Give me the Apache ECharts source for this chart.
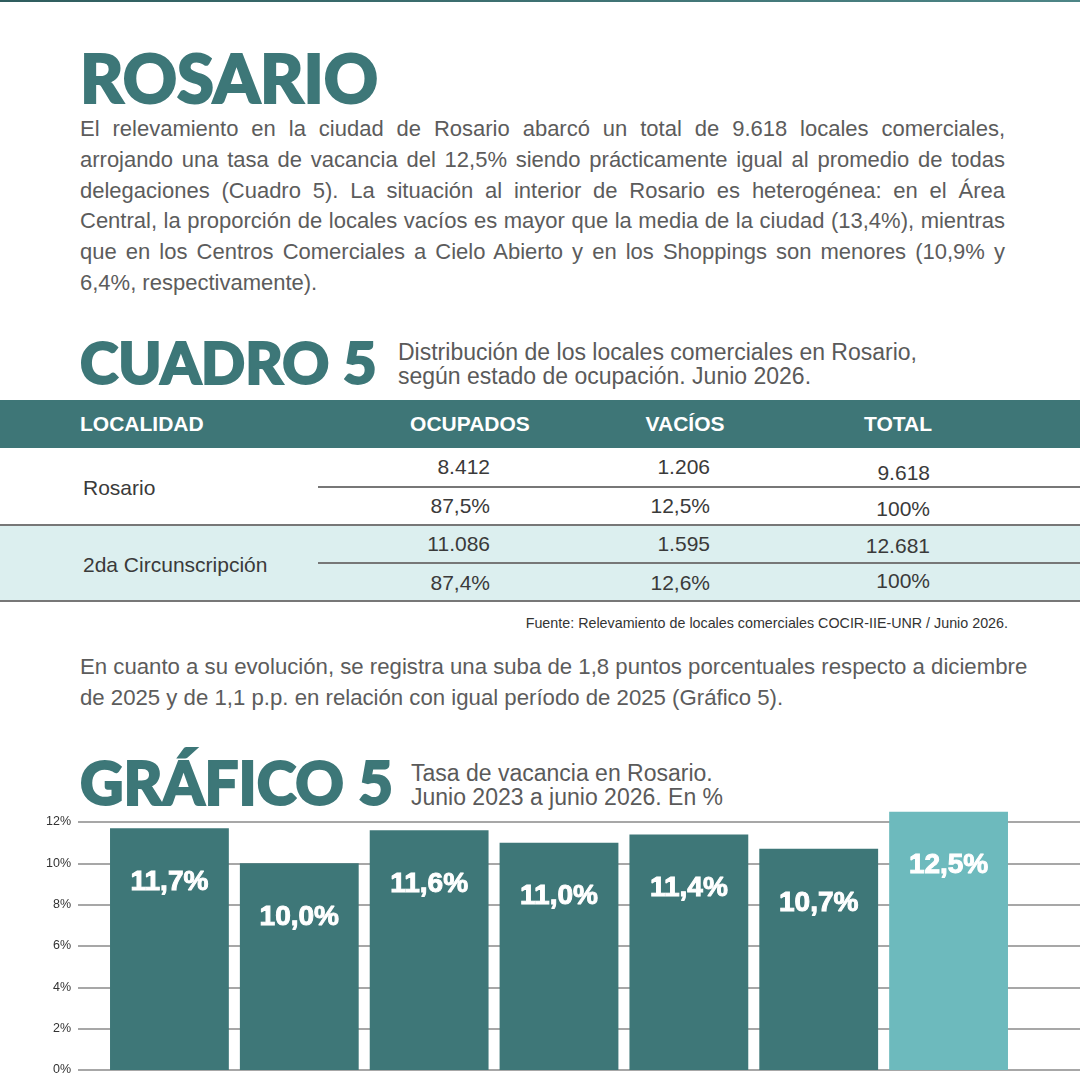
<!DOCTYPE html>
<html>
<head>
<meta charset="utf-8">
<script src="https://cdn.jsdelivr.net/npm/echarts@6/dist/echarts.min.js"></script>
<style>
  html, body { margin: 0; padding: 0; background: #fff; }
  #page { position: relative; width: 1080px; height: 1080px; overflow: hidden; font-family: "Liberation Sans", Arial, sans-serif; }
  .topline { position: absolute; left: 0; top: 0; width: 1080px; height: 2px; background: linear-gradient(90deg, #2f5d5e, #4d8586); }
  .big { position: absolute; font-family: Lato, "DejaVu Sans", sans-serif; font-weight: 900; color: #3d7778; line-height: 1; white-space: nowrap; -webkit-text-stroke: 2px #3d7778; }
  .sub { position: absolute; font-size: 23px; line-height: 24px; color: #5a5a5a; white-space: nowrap; }
  .para { position: absolute; left: 80px; width: 925px; font-size: 22px; line-height: 30.8px; color: #5c5c5c; }
  .para div { text-align: justify; text-align-last: justify; white-space: nowrap; }
  .para div.last { text-align-last: left; }
  .hdr { position: absolute; left: 0; top: 400px; width: 1080px; height: 48px; background: #3e7677; }
  .hdr span { position: absolute; top: 12px; font-size: 21px; line-height: 24px; font-weight: bold; color: #fff; }
  .row2bg { position: absolute; left: 0; top: 525px; width: 1080px; height: 76px; background: #dcefef; }
  .hl { position: absolute; height: 1.5px; background: #777; }
  .cell { position: absolute; font-size: 21px; height: 24px; line-height: 24px; color: #3a3a3a; white-space: nowrap; }
  .r { text-align: right; }
  .c { text-align: center; }
  #chart { position: absolute; left: 0; top: 740px; width: 1080px; height: 340px; }
</style>
</head>
<body>
<div id="page">
  <div class="topline"></div>
  <div class="big" style="left:80px; top:44px; font-size:67px;">ROSARIO</div>
  <div class="para" style="top:114px;">
    <div>El relevamiento en la ciudad de Rosario abarcó un total de 9.618 locales comerciales,</div>
    <div>arrojando una tasa de vacancia del 12,5% siendo prácticamente igual al promedio de todas</div>
    <div>delegaciones (Cuadro 5). La situación al interior de Rosario es heterogénea: en el Área</div>
    <div>Central, la proporción de locales vacíos es mayor que la media de la ciudad (13,4%), mientras</div>
    <div>que en los Centros Comerciales a Cielo Abierto y en los Shoppings son menores (10,9% y</div>
    <div class="last">6,4%, respectivamente).</div>
  </div>

  <div class="big" style="left:80px; top:333px; font-size:58px;">CUADRO 5</div>
  <div class="sub" style="left:398px; top:340px;">Distribución de los locales comerciales en Rosario,<br>según estado de ocupación. Junio 2026.</div>

  <div class="hdr">
    <span style="left:80px;">LOCALIDAD</span>
    <span style="left:370px; width:200px; text-align:center;">OCUPADOS</span>
    <span style="left:585px; width:200px; text-align:center;">VACÍOS</span>
    <span style="left:798px; width:200px; text-align:center;">TOTAL</span>
  </div>
  <div class="row2bg"></div>
  <div class="hl" style="left:318px; top:486px; width:762px;"></div>
  <div class="hl" style="left:0; top:524px; width:1080px;"></div>
  <div class="hl" style="left:318px; top:562px; width:762px;"></div>
  <div class="hl" style="left:0; top:600px; width:1080px;"></div>
  <div id="cells"></div>

  <div class="cell" style="left:0; top:611px; width:1008px; text-align:right; font-size:14.3px; color:#333;">Fuente: Relevamiento de locales comerciales COCIR-IIE-UNR / Junio 2026.</div>

  <div class="para" style="top:652px; width:1000px; font-size:22.2px;">
    <div class="last">En cuanto a su evolución, se registra una suba de 1,8 puntos porcentuales respecto a diciembre</div>
    <div class="last">de 2025 y de 1,1 p.p. en relación con igual período de 2025 (Gráfico 5).</div>
  </div>

  <div class="big" style="left:80px; top:752px; font-size:60px;">GRÁFICO 5</div>
  <div class="sub" style="left:411px; top:761px;">Tasa de vacancia en Rosario.<br>Junio 2023 a junio 2026. En %</div>

  <div id="chart"></div>
</div>
<script>
// Cuadro 5
var localidades = ['Rosario', '2da Circunscripción'];
var ocupados = ['8.412', '11.086'];
var ocupadosPct = ['87,5%', '87,4%'];
var vacios = ['1.206', '1.595'];
var vaciosPct = ['12,5%', '12,6%'];
var totales = ['9.618', '12.681'];
var totalesPct = ['100%', '100%'];

// Gráfico 5
var periodos = ['Jun 2023', 'Dic 2023', 'Jun 2024', 'Dic 2024', 'Jun 2025', 'Dic 2025', 'Jun 2026'];
var tasas = [11.7, 10.0, 11.6, 11.0, 11.4, 10.7, 12.5];
var ejeY = [0, 2, 4, 6, 8, 10, 12];

// armar celdas de la tabla (posiciones verticales de cada fila)
var filaY = [448, 525];
var totalDy = [[25, 61], [21, 56]];
function celda(cls, left, width, cy, txt) {
    return '<div class="cell ' + cls + '" style="left:' + left + 'px; width:' + width + 'px; top:' + (cy - 12) + 'px;">' + txt + '</div>';
}
var cellsHtml = '';
for (var i = 0; i < localidades.length; i++) {
    var y0 = filaY[i];
    cellsHtml += celda('', 83, 240, y0 + 40, localidades[i]);
    cellsHtml += celda('r', 380, 110, y0 + 19, ocupados[i]);
    cellsHtml += celda('r', 380, 110, y0 + 58, ocupadosPct[i]);
    cellsHtml += celda('r', 600, 110, y0 + 19, vacios[i]);
    cellsHtml += celda('r', 600, 110, y0 + 58, vaciosPct[i]);
    cellsHtml += celda('r', 810, 120, y0 + totalDy[i][0], totales[i]);
    cellsHtml += celda('r', 810, 120, y0 + totalDy[i][1], totalesPct[i]);
}
document.getElementById('cells').innerHTML = cellsHtml;

var myChart = echarts.init(document.getElementById('chart'));

var colores = tasas.map(function (v, i) {
    return i === tasas.length - 1 ? '#6dbabd' : '#3e7778';
});

myChart.setOption({
    animation: false,
    grid: [
        { left: 78, right: 0, top: 82, bottom: 10 },
        { left: 104.5, right: 66.5, top: 82, bottom: 10 }
    ],
    xAxis: [
        { type: 'category', gridIndex: 0, data: [], show: false },
        { type: 'category', gridIndex: 1, data: periodos, show: false }
    ],
    yAxis: [
        {
            type: 'value', gridIndex: 0, min: 0, max: 12, interval: 2,
            axisLine: { show: false }, axisTick: { show: false },
            axisLabel: {
                margin: 7, fontSize: 12.5, color: '#333', fontFamily: 'Liberation Sans',
                formatter: function (v) { return ejeY.indexOf(v) >= 0 ? v + '%' : ''; }
            },
            splitLine: { lineStyle: { color: '#8a8a8a', width: 1.5 } }
        },
        {
            type: 'value', gridIndex: 1, min: 0, max: 12, interval: 2,
            show: false, splitLine: { show: false }
        }
    ],
    series: [{
        type: 'bar',
        xAxisIndex: 1,
        yAxisIndex: 1,
        clip: false,
        barCategoryGap: '8.5%',
        data: tasas.map(function (v, i) {
            return { value: v, itemStyle: { color: colores[i] } };
        }),
        label: {
            show: true,
            position: 'insideTop',
            distance: 40,
            color: '#fff',
            fontSize: 28,
            fontWeight: 'bold',
            fontFamily: 'Liberation Sans',
            textBorderColor: '#fff',
            textBorderWidth: 1,
            formatter: function (p) { return p.value.toFixed(1).replace('.', ',') + '%'; }
        }
    }]
});
</script>
</body>
</html>
